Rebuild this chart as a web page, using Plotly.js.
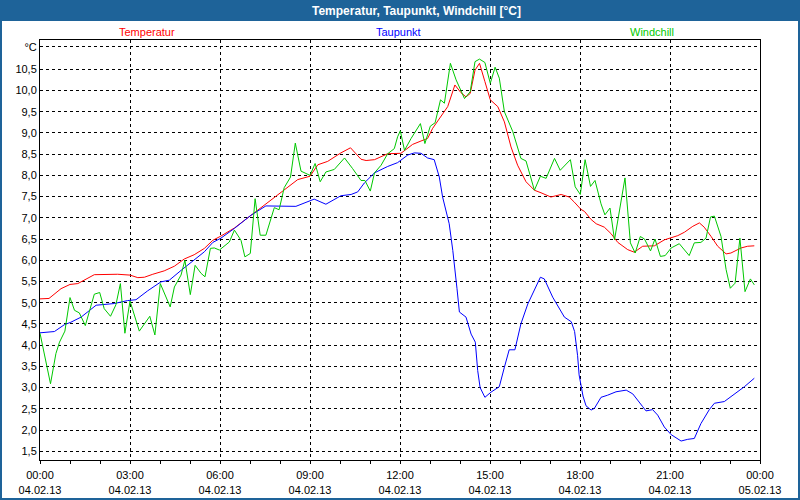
<!DOCTYPE html>
<html>
<head>
<meta charset="utf-8">
<script src="https://cdn.plot.ly/plotly-3.0.1.min.js"></script>
<style>html,body{margin:0;padding:0;background:#fff;}#chart{width:800px;height:500px;}</style>
</head>
<body>
<div id="chart"></div>
<script>
// Hours since 04.02.13 00:00
const tempHours = [0,0.3,0.7,1.0,1.26,1.81,2.59,3.0,3.26,3.48,3.76,4.14,4.48,4.81,5.14,5.48,5.76,6.03,6.48,7.03,7.59,8.14,8.59,9.0,9.26,9.59,10.03,10.35,10.7,10.87,11.15,11.59,12.03,12.2,12.42,12.7,12.92,13.09,13.31,13.59,13.83,14.03,14.2,14.34,14.5,14.65,14.83,15.01,15.26,15.48,15.7,15.92,16.2,16.48,16.7,17.03,17.37,17.64,17.81,18.03,18.15,18.37,18.54,18.81,19.03,19.26,19.59,19.81,20.09,20.48,20.81,21.26,21.48,21.76,21.98,22.14,22.37,22.59,22.87,23.03,23.37,23.59,23.81];
const tempValues = [5.09,5.1,5.33,5.43,5.45,5.66,5.67,5.65,5.59,5.6,5.67,5.75,5.86,6.03,6.13,6.28,6.47,6.57,6.76,7.06,7.37,7.66,7.9,7.98,8.25,8.33,8.53,8.65,8.38,8.35,8.37,8.51,8.52,8.61,8.73,8.81,8.87,9.11,9.34,9.62,10.13,9.95,9.85,9.93,10.48,10.64,10.21,9.78,9.62,9.26,8.67,8.24,7.85,7.65,7.59,7.49,7.55,7.49,7.37,7.2,7.15,6.96,6.86,6.78,6.63,6.42,6.25,6.19,6.33,6.34,6.48,6.58,6.66,6.8,6.88,6.78,6.56,6.33,6.15,6.17,6.29,6.33,6.34];

const dewHours = [0,0.48,0.81,1.03,1.37,1.87,2.48,2.92,3.2,3.59,4.03,4.31,4.7,5.14,5.48,5.76,6.03,6.48,7.03,7.53,8.14,8.53,9.14,9.53,10.03,10.37,10.59,10.81,11.15,11.59,11.92,12.26,12.48,12.7,12.92,13.14,13.31,13.42,13.64,13.76,13.9,13.98,14.2,14.37,14.51,14.59,14.67,14.83,15.03,15.31,15.48,15.64,15.83,16.03,16.26,16.68,16.81,17.09,17.48,17.71,17.82,17.92,17.97,18.1,18.2,18.37,18.48,18.7,18.92,19.2,19.54,19.76,20.09,20.2,20.42,20.59,20.81,21.04,21.37,21.59,21.81,22.03,22.31,22.48,22.81,23.09,23.26,23.48,23.81];
const dewValues = [4.29,4.32,4.48,4.54,4.66,4.94,4.98,5.05,5.07,5.28,5.49,5.53,5.76,6.0,6.2,6.42,6.52,6.75,7.06,7.28,7.27,7.27,7.44,7.32,7.52,7.55,7.61,7.82,8.06,8.21,8.3,8.48,8.53,8.52,8.41,8.37,7.96,7.49,6.86,6.23,5.33,4.78,4.66,4.26,4.07,3.4,3.0,2.77,2.89,3.02,3.48,3.89,3.89,4.5,4.97,5.6,5.56,5.13,4.66,4.55,4.32,3.75,3.3,2.8,2.57,2.47,2.51,2.77,2.82,2.9,2.94,2.85,2.55,2.45,2.48,2.35,2.07,1.89,1.74,1.78,1.8,2.15,2.48,2.63,2.67,2.82,2.9,3.02,3.22];

const chillHours = [0,0.15,0.35,0.53,0.65,0.83,1.0,1.15,1.31,1.51,1.81,1.99,2.14,2.35,2.53,2.68,2.83,3.0,3.31,3.66,3.83,4.01,4.2,4.34,4.48,4.7,4.83,5.01,5.17,5.37,5.5,5.68,5.81,5.98,6.31,6.48,6.7,6.83,7.01,7.17,7.34,7.53,7.81,7.97,8.14,8.35,8.51,8.7,9.0,9.17,9.34,9.53,9.81,10.15,10.42,10.7,10.83,11.01,11.15,11.37,11.59,11.81,11.92,12.01,12.15,12.37,12.68,12.83,13.01,13.17,13.35,13.48,13.68,13.87,14.15,14.34,14.5,14.65,14.83,15.01,15.17,15.31,15.48,15.76,16.03,16.2,16.48,16.68,16.87,17.15,17.34,17.68,17.84,18.01,18.17,18.35,18.5,18.7,18.83,19.0,19.15,19.31,19.5,19.68,19.84,20.01,20.15,20.35,20.5,20.68,20.84,21.04,21.31,21.64,21.81,22.03,22.2,22.35,22.48,22.7,22.87,23.01,23.17,23.33,23.5,23.68,23.81];
const chillValues = [4.28,3.8,3.09,3.8,4.07,4.33,5.12,4.82,4.76,4.46,5.2,5.24,4.86,4.68,4.95,5.45,4.28,5.04,4.33,4.68,4.24,5.45,5.13,4.9,5.37,5.65,6.0,5.19,5.88,5.69,5.61,6.28,6.29,6.24,6.43,6.71,6.47,6.08,6.16,7.45,6.59,6.59,7.24,7.19,7.71,7.96,8.76,8.1,8.0,8.28,7.85,8.08,8.14,8.41,8.16,7.88,7.88,7.63,8.06,8.24,8.51,8.63,8.91,9.05,8.59,8.87,9.22,8.75,9.16,9.24,9.78,9.7,10.64,10.25,9.81,9.97,10.68,10.74,10.66,10.17,10.55,10.29,9.5,9.03,8.4,8.34,7.65,7.98,7.93,8.4,8.12,8.37,7.73,7.55,8.37,7.74,7.88,7.33,7.07,7.23,6.48,7.19,7.94,6.41,6.17,6.56,6.5,6.22,6.5,6.09,6.11,6.29,6.39,6.11,6.41,6.42,6.52,7.02,7.04,6.56,5.78,5.34,5.46,6.52,5.26,5.56,5.42];

const seriesNames = ['Temperatur','Taupunkt','Windchill'];
const seriesColors = ['#ff0000','#0000ff','#00c800'];

const xTickVals = [0,3,6,9,12,15,18,21,24];
const xTickText = ['00:00<br>04.02.13','03:00<br>04.02.13','06:00<br>04.02.13','09:00<br>04.02.13','12:00<br>04.02.13','15:00<br>04.02.13','18:00<br>04.02.13','21:00<br>04.02.13','00:00<br>05.02.13'];
const yTickVals = [1.5,2,2.5,3,3.5,4,4.5,5,5.5,6,6.5,7,7.5,8,8.5,9,9.5,10,10.5,11.03];
const yTickText = ['1,5','2,0','2,5','3,0','3,5','4,0','4,5','5,0','5,5','6,0','6,5','7,0','7,5','8,0','8,5','9,0','9,5','10,0','10,5','°C'];
const chartTitle = 'Temperatur, Taupunkt, Windchill [°C]';

const FONT = 'Liberation Sans, Arial, sans-serif';
const frameColor = '#1e6399';

const xs = [tempHours, dewHours, chillHours];
const ys = [tempValues, dewValues, chillValues];
const traces = seriesNames.map((n,i)=>({
  x: xs[i], y: ys[i], name: n, type: 'scatter', mode: 'lines',
  line: {color: seriesColors[i], width: 1}, hoverinfo: 'skip'
}));

const legendX = [0.1493, 0.4986, 0.85];
const annotations = seriesNames.map((n,i)=>({
  text: n, xref: 'paper', yref: 'paper', x: legendX[i], y: (460-31.5)/420,
  xanchor: 'center', yanchor: 'middle', showarrow: false,
  font: {family: FONT, size: 11, color: seriesColors[i]}
}));
annotations.push({
  text: chartTitle, xref: 'paper', yref: 'paper', x: (416-40)/720, y: (460-10.5)/420,
  xanchor: 'center', yanchor: 'middle', showarrow: false,
  font: {family: FONT, size: 12, color: '#ffffff', weight: 'bold'}
});

const layout = {
  width: 800, height: 500,
  margin: {l: 40, r: 40, t: 40, b: 40, pad: 0},
  paper_bgcolor: '#ffffff', plot_bgcolor: '#ffffff',
  showlegend: false,
  font: {family: FONT, size: 11, color: '#000000'},
  xaxis: {
    range: [0, 24], tickmode: 'array', tickvals: xTickVals, ticktext: xTickText,
    showgrid: true, gridcolor: '#000000', griddash: '3px,3px', gridwidth: 1,
    showline: true, linecolor: '#000000', linewidth: 1, mirror: true,
    ticks: 'outside', ticklen: 3, tickcolor: '#000000', tickwidth: 1,
    ticklabelstandoff: 2,
    zeroline: false, fixedrange: true,
    tickfont: {family: FONT, size: 11, color: '#000000'},
    minor: {dtick: 1, tick0: 0, ticks: 'outside', ticklen: 3, tickcolor: '#000000', showgrid: false}
  },
  yaxis: {
    range: [1.293, 11.19], tickmode: 'array', tickvals: yTickVals, ticktext: yTickText,
    showgrid: true, gridcolor: '#000000', griddash: '3px,3px', gridwidth: 1,
    showline: true, linecolor: '#000000', linewidth: 1, mirror: true,
    ticks: '', zeroline: false, fixedrange: true,
    tickfont: {family: FONT, size: 11, color: '#000000'}
  },
  shapes: [
    {type: 'rect', xref: 'paper', yref: 'paper', x0: -40/720, x1: 760/720, y0: (460-21)/420, y1: 460/420,
     fillcolor: frameColor, line: {width: 0}, layer: 'above'},
    {type: 'rect', xref: 'paper', yref: 'paper', x0: -40/720, x1: 760/720, y0: -40/420, y1: 460/420,
     fillcolor: 'rgba(0,0,0,0)', line: {color: frameColor, width: 4}, layer: 'above'}
  ],
  annotations: annotations
};

Plotly.newPlot('chart', traces, layout, {staticPlot: true, displayModeBar: false});
</script>
</body>
</html>
